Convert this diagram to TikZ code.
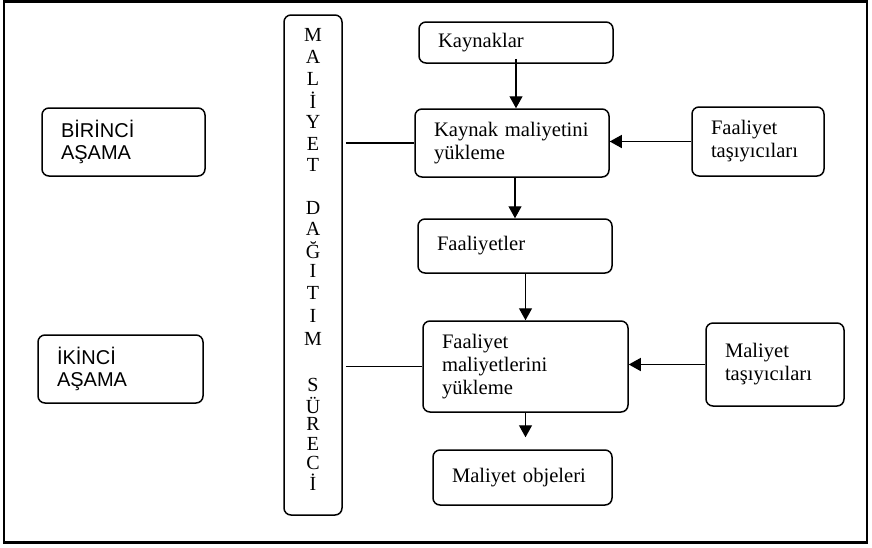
\documentclass[tikz,border=0pt]{standalone}
\usepackage{fontspec}
\setmainfont{Liberation Serif}
\newfontfamily\etiketfont{Liberation Sans}
\usetikzlibrary{arrows.meta}
\tikzset{>={Triangle[length=6pt,width=6.5pt]}}
\tikzset{kutu/.style={draw, rounded corners=3.5pt, line width=0.75pt, align=left, inner xsep=9.5pt, inner ysep=0pt, font=\fontsize{10.3}{11.5}\selectfont}}
\tikzset{asama/.style={kutu, font=\etiketfont\fontsize{10}{11}\selectfont}}
\tikzset{cubuk/.style={draw, rounded corners=3.5pt, line width=0.75pt, inner sep=0pt, minimum width=29pt, minimum height=250pt}}
\tikzset{harf/.style={inner sep=0pt, font=\fontsize{10}{10}\selectfont}}
\tikzset{ok/.style={->, line width=0.65pt}}
\tikzset{hat/.style={line width=0.6pt}}

\begin{document}
\begin{tikzpicture}[x=0.5pt, y=-0.5pt]
\useasboundingbox (0,0) rectangle (872,547);
\draw[line width=1.25pt] (4,1.5) rectangle (867,542.5);

% asamalar
\node[asama, text width=62.5pt, minimum height=34pt] (birinci) at (123.5,142) {BİRİNCİ\\AŞAMA};
\node[asama, text width=63.5pt, minimum height=34pt] (ikinci) at (120.5,369) {İKİNCİ\\AŞAMA};

% maliyet dagitim sureci
\node[cubuk] (bar) at (313,265) {};
\foreach \h/\y [count=\i] in {M/35, A/57, L/79, İ/100, Y/122, E/144, T/165,
    D/208, A/229, Ğ/250, I/271, T/293, I/316, M/339,
    S/385, Ü/405, R/424, E/444, C/463, İ/482}
  \node[harf] (harf\i) at (313,\y) {\h};

% akis
\node[kutu, text width=78pt, minimum height=20.5pt] (kaynak) at (516,42.5) {Kaynaklar};
\node[kutu, text width=78pt, minimum height=34pt] (kmy) at (512,143) {Kaynak maliyetini\\yükleme};
\node[kutu, text width=78pt, minimum height=27pt] (faal) at (515,246) {Faaliyetler};
\node[kutu, text width=83.5pt, minimum height=45.5pt] (fmy) at (525.5,366.5) {Faaliyet\\maliyetlerini\\yükleme};
\node[kutu, text width=70.5pt, minimum height=27.5pt] (mobj) at (522.5,477.5) {Maliyet objeleri};
\node[kutu, text width=47pt, minimum height=34.5pt] (ftas) at (758,141.5) {Faaliyet\\taşıyıcıları};
\node[kutu, text width=50pt, minimum height=41.5pt] (mtas) at (775,364.5) {Maliyet\\taşıyıcıları};

\draw[ok, shorten <=-2.5pt] (kaynak.south) -- (kaynak.south |- kmy.north);
\draw[ok] (faal.north |- kmy.south) -- (faal.north);
\draw[ok] (fmy.north |- faal.south) -- (fmy.north);
\draw[ok, shorten >=6pt] (fmy.south) -- (fmy.south |- mobj.north);
\draw[ok] (ftas.west) -- (ftas.west -| kmy.east);
\draw[ok] (mtas.west) -- (mtas.west -| fmy.east);

\draw[hat, shorten <=1.5pt] (bar.east |- kmy.west) -- (kmy.west);
\draw[hat, shorten <=1.5pt] (bar.east |- fmy.west) -- (fmy.west);
\end{tikzpicture}
\end{document}
